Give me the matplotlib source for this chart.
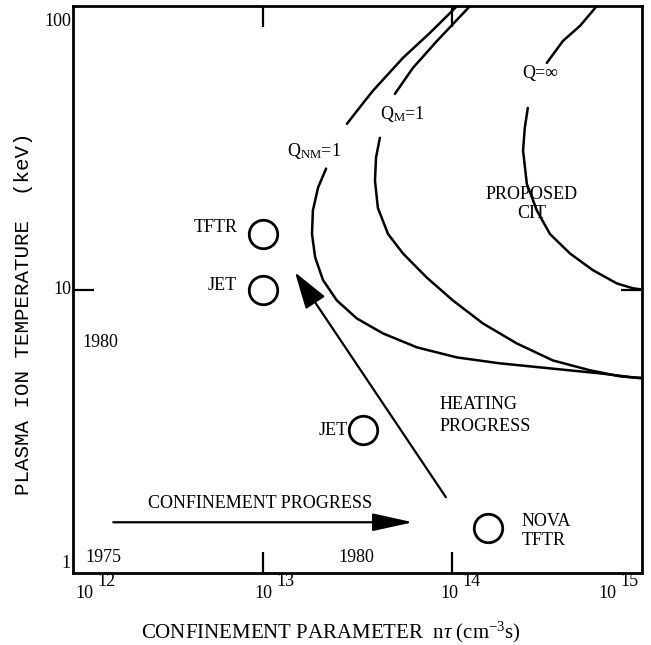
import matplotlib
matplotlib.use("Agg")
import matplotlib.pyplot as plt
import matplotlib.transforms as mtransforms

plt.rcParams['font.family'] = ['Liberation Serif', 'DejaVu Serif']
plt.rcParams['mathtext.fontset'] = 'custom'
plt.rcParams['mathtext.rm'] = 'Liberation Serif'
plt.rcParams['mathtext.it'] = 'Liberation Serif:italic'

# ---- data ----
# Q_NM = 1 curve (upper and lower branches, label gap between)
qnm_up_x = [1.06e14, 7.62e13, 5.49e13, 3.81e13, 3.46e13, 2.78e13]
qnm_up_y = [100.0, 80.4, 65.6, 50.2, 46.3, 38.4]
qnm_lo_x = [2.16e13, 1.96e13, 1.84e13, 1.82e13, 1.89e13, 2.08e13, 2.46e13,
            3.14e13, 4.31e13, 6.51e13, 1.057e14, 1.78e14, 3.27e14, 6.0e14,
            8.96e14, 1.0e15]
qnm_lo_y = [26.7, 22.9, 19.0, 15.7, 13.0, 10.8, 9.15,
            7.9, 7.0, 6.25, 5.76, 5.49, 5.27, 5.06,
            4.90, 4.88]

# Q_M = 1 curve
qm_up_x = [1.24e14, 8.3e13, 6.2e13, 4.98e13]
qm_up_y = [100.0, 75.3, 60.5, 49.0]
qm_lo_x = [4.15e13, 3.96e13, 3.91e13, 4.05e13, 4.58e13, 5.49e13, 7.35e13,
           1.007e14, 1.45e14, 2.19e14, 3.39e14, 5.31e14, 7.65e14, 1.0e15]
qm_lo_y = [34.3, 29.2, 24.2, 19.4, 15.7, 13.4, 11.0,
           9.15, 7.59, 6.45, 5.62, 5.19, 4.94, 4.86]

# Q = infinity curve
qinf_up_x = [5.78e14, 4.71e14, 3.83e14, 3.15e14]
qinf_up_y = [100.0, 85.1, 75.3, 63.0]
qinf_lo_x = [2.50e14, 2.41e14, 2.36e14, 2.47e14, 2.79e14, 3.27e14, 4.17e14,
             5.51e14, 7.38e14, 8.96e14, 1.0e15]
qinf_lo_y = [43.7, 37.2, 30.9, 23.6, 19.0, 15.7, 13.4,
             11.7, 10.5, 10.1, 10.0]

# machines (circles)
dev_x = [1.0e13, 1.0e13, 3.4e13, 1.54e14]
dev_y = [15.7, 10.0, 3.19, 1.44]

# arrows (tail -> tip)
conf_arrow_x = [1.63e12, 6.2e13]
conf_arrow_y = [1.51, 1.51]
heat_arrow_x = [9.25e13, 1.48e13]
heat_arrow_y = [1.85, 11.5]

x_tick_exps = [12, 13, 14, 15]
y_tick_vals = [100, 10, 1]
y_tick_labels = ["100", "10", "1"]

# ---- figure ----
W, H = 651, 645
fig = plt.figure(figsize=(W / 100, H / 100), dpi=100)
L, R, T, B = 73, 642, 6, 573
ax = fig.add_axes([L / W, 1 - B / H, (R - L) / W, (B - T) / H])
ax.set_xscale('log')
ax.set_yscale('log')
ax.set_xlim(1e12, 1e15)
ax.set_ylim(1, 100)

for s in ax.spines.values():
    s.set_linewidth(2.0)

ax.set_xticks([1e13, 1e14])
ax.set_yticks([10])
ax.xaxis.set_minor_locator(matplotlib.ticker.NullLocator())
ax.yaxis.set_minor_locator(matplotlib.ticker.NullLocator())
ax.tick_params(which='major', direction='in', length=15, width=1.6,
               top=True, right=True, labelbottom=False, labelleft=False)

lw = 1.8
for xs, ys in [(qnm_up_x, qnm_up_y), (qnm_lo_x, qnm_lo_y),
               (qm_up_x, qm_up_y), (qm_lo_x, qm_lo_y),
               (qinf_up_x, qinf_up_y), (qinf_lo_x, qinf_lo_y)]:
    ax.plot(xs, ys, color='black', lw=lw, solid_capstyle='round',
            solid_joinstyle='round')

ax.plot(dev_x, dev_y, 'o', ms=20.5, mfc='none', mec='black', mew=2.0,
        clip_on=False)

ax.annotate('', xy=(conf_arrow_x[1], conf_arrow_y[1]),
            xytext=(conf_arrow_x[0], conf_arrow_y[0]),
            arrowprops=dict(arrowstyle='-|>,head_length=2.5,head_width=0.55',
                            mutation_scale=10, lw=1.6, color='black',
                            shrinkA=0, shrinkB=0))
ax.annotate('', xy=(heat_arrow_x[1], heat_arrow_y[1]),
            xytext=(heat_arrow_x[0], heat_arrow_y[0]),
            arrowprops=dict(arrowstyle='-|>,head_length=2.3,head_width=0.72',
                            mutation_scale=10, lw=1.6, color='black',
                            shrinkA=0, shrinkB=0))

fs = 13
ax.text(7.41e12, 16.5, "TFTR", ha='right', va='center', fontsize=fs)
ax.text(7.33e12, 10.3, "JET", ha='right', va='center', fontsize=fs)
ax.text(2.82e13, 3.19, "JET", ha='right', va='center', fontsize=fs)
ax.text(2.33e14, 1.406, "NOVA\nTFTR", ha='left', va='center', fontsize=fs,
        linespacing=1.2)
ax.text(8.6e13, 3.59, "HEATING\nPROGRESS", ha='left', va='center',
        fontsize=fs, linespacing=1.35)
ax.text(9.68e12, 1.76, "CONFINEMENT PROGRESS", ha='center', va='center',
        fontsize=fs)
ax.text(1.157e12, 1.13, "1975", ha='left', va='center', fontsize=fs)
ax.text(3.1e13, 1.13, "1980", ha='center', va='center', fontsize=fs)
ax.text(1.115e12, 6.5, "1980", ha='left', va='center', fontsize=fs)
ax.text(1.34e13, 30.9, r"Q$_{\mathrm{NM}}$=1", ha='left', va='center', fontsize=fs)
ax.text(4.15e13, 41.7, r"Q$_{\mathrm{M}}$=1", ha='left', va='center', fontsize=fs)
ax.text(2.33e14, 57.6, "Q=\u221e", ha='left', va='center', fontsize=fs)
ax.text(2.63e14, 20.0, "PROPOSED\nCIT", ha='center', va='center',
        fontsize=fs, linespacing=1.2)

# x tick labels: "10" with same-size raised exponent
xtrans = ax.get_xaxis_transform()
base_dx = {12: 20, 13: 10, 14: 6, 15: -26}
for e in x_tick_exps:
    dx = base_dx[e]
    t1 = mtransforms.offset_copy(xtrans, fig=fig, x=dx, y=-21, units='dots')
    ax.text(10.0 ** e, 0, "10", transform=t1, ha='right', va='center',
            fontsize=fs, clip_on=False)
    t2 = mtransforms.offset_copy(xtrans, fig=fig, x=dx + 4, y=-9, units='dots')
    ax.text(10.0 ** e, 0, str(e), transform=t2, ha='left', va='center',
            fontsize=fs, clip_on=False)

ytrans = ax.get_yaxis_transform()
y_dy = {100: -16, 10: 0, 1: 10}
for v, lab in zip(y_tick_vals, y_tick_labels):
    t = mtransforms.offset_copy(ytrans, fig=fig, x=-2, y=y_dy[v], units='dots')
    ax.text(0, v, lab, transform=t, ha='right', va='center', fontsize=fs,
            clip_on=False)

fig.text(331 / W, 1 - 632 / H,
         r"CONFINEMENT PARAMETER  n$\tau$ (cm$^{-3}$s)",
         ha='center', va='center', fontsize=15)
fig.text(24 / W, 1 - 314 / H, "PLASMA ION TEMPERATURE  (keV)",
         rotation=90, ha='center', va='center', fontsize=15,
         family=['Liberation Mono', 'DejaVu Sans Mono'])

fig.savefig("out.png", dpi=100)
